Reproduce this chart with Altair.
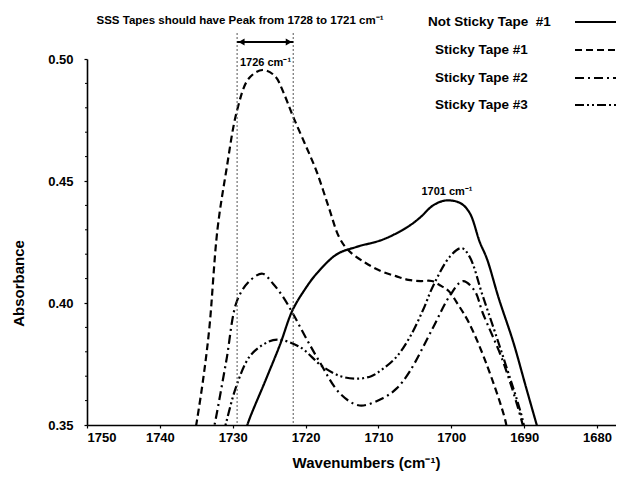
import altair as alt
import pandas as pd

FONT = "Liberation Sans"

series_names = ["Not Sticky Tape\u00a0\u00a0#1", "Sticky Tape #1", "Sticky Tape #2", "Sticky Tape #3"]

not_sticky_wn = [1728.4, 1728.0, 1725.4, 1723.5, 1721.8, 1720.0, 1718.5, 1715.7, 1713.0, 1709.4, 1706.1,
                 1704.3, 1702.5, 1700.8, 1698.8, 1697.5, 1696.1, 1695.1, 1693.5, 1691.5, 1689.8, 1687.8]
not_sticky_abs = [0.345, 0.350, 0.369, 0.383, 0.397, 0.406, 0.412, 0.420, 0.423, 0.426, 0.431,
                  0.435, 0.440, 0.442, 0.441, 0.437, 0.425, 0.418, 0.402, 0.384, 0.366, 0.345]

sticky1_wn = [1735.3, 1734.9, 1734.0, 1733.2, 1732.1, 1730.9, 1729.4, 1727.8, 1725.9, 1724.2, 1723.0,
              1721.8, 1720.2, 1718.5, 1716.8, 1715.4, 1714.1, 1711.8, 1709.6, 1707.6, 1705.9, 1704.2,
              1702.7, 1701.4, 1700.4, 1699.0, 1697.6, 1695.3, 1692.6, 1692.2]
sticky1_abs = [0.345, 0.352, 0.370, 0.390, 0.430, 0.454, 0.479, 0.492, 0.4955, 0.493, 0.486,
               0.477, 0.466, 0.454, 0.439, 0.427, 0.4215, 0.4165, 0.413, 0.411, 0.4095, 0.409,
               0.409, 0.407, 0.405, 0.399, 0.392, 0.376, 0.352, 0.345]

sticky2_wn = [1732.9, 1732.5, 1730.9, 1729.4, 1727.7, 1725.9, 1724.5, 1723.2, 1721.8, 1720.0, 1718.1,
              1715.3, 1712.6, 1709.4, 1707.5, 1705.7, 1702.5, 1700.2, 1698.4, 1696.8, 1695.7, 1692.9,
              1690.2, 1689.9]
sticky2_abs = [0.345, 0.350, 0.376, 0.401, 0.409, 0.412, 0.408, 0.403, 0.396, 0.386, 0.376,
               0.363, 0.358, 0.361, 0.365, 0.372, 0.390, 0.403, 0.409, 0.405, 0.396, 0.376,
               0.350, 0.345]

sticky3_wn = [1731.4, 1730.9, 1729.5, 1727.7, 1725.8, 1723.9, 1720.8, 1717.7, 1715.2, 1713.0, 1711.0,
              1709.4, 1707.5, 1705.7, 1703.9, 1702.5, 1700.2, 1698.6, 1697.5, 1695.7, 1692.9, 1690.2,
              1689.8]
sticky3_abs = [0.345, 0.351, 0.366, 0.378, 0.383, 0.385, 0.382, 0.374, 0.370, 0.369, 0.370,
               0.373, 0.378, 0.386, 0.397, 0.407, 0.419, 0.4225, 0.419, 0.403, 0.378, 0.352,
               0.345]

x_ticks = [1750, 1740, 1730, 1720, 1710, 1700, 1690, 1680]
y_ticks = [0.35, 0.40, 0.45, 0.50]
y_minor_ticks = [0.36, 0.37, 0.38, 0.39, 0.41, 0.42, 0.43, 0.44, 0.46, 0.47, 0.48, 0.49]
x_domain = [1677.4, 1750]
y_domain = [0.35, 0.50]

window_wn = [1729.4, 1721.7]
peak_labels = ["1726 cm\u207b\u00b9", "1701 cm\u207b\u00b9"]
peak_label_wn = [1725.5, 1700.6]
peak_label_abs = [0.4985, 0.4455]

title_text = "SSS Tapes should have Peak from 1728 to 1721 cm\u207b\u00b9"

dashes = [[1, 0], [7, 4], [9, 4, 2, 4], [9, 3, 2, 3, 2, 3]]

rows = []
for name, wns, vals in zip(series_names,
                           [not_sticky_wn, sticky1_wn, sticky2_wn, sticky3_wn],
                           [not_sticky_abs, sticky1_abs, sticky2_abs, sticky3_abs]):
    for w, v in zip(wns, vals):
        rows.append({"series": name, "wn": w, "abs": v})
df = pd.DataFrame(rows)

W, H = 529, 366

x_scale = alt.Scale(domain=x_domain, reverse=True, nice=False, zero=False)
y_scale = alt.Scale(domain=y_domain, nice=False, zero=False)

x_enc = alt.X("wn:Q", scale=x_scale,
              axis=alt.Axis(values=x_ticks, format="d", title="Wavenumbers (cm\u207b\u00b9)",
                            titleX=279, titleY=30, titleBaseline="top", titleFontSize=15,
                            labelPadding=3, tickSize=3))
y_enc = alt.Y("abs:Q", scale=y_scale,
              axis=alt.Axis(values=y_ticks, format=".2f", title="Absorbance",
                            titleX=-69, titleY=224, titleBaseline="middle", titleFontSize=15,
                            labelPadding=11, tickSize=3))

curves = alt.Chart(df).mark_line(clip=True, interpolate="catmull-rom", color="black",
                                 strokeWidth=2.2).encode(
    x=x_enc, y=y_enc,
    detail="series:N",
    strokeDash=alt.StrokeDash("series:N",
                              scale=alt.Scale(domain=series_names, range=dashes),
                              legend=None),
)

minor_df = pd.DataFrame({"abs": y_minor_ticks})
minor = alt.Chart(minor_df).mark_rule(color="black", strokeWidth=1).encode(
    y=alt.Y("abs:Q", scale=y_scale),
    x=alt.value(-2), x2=alt.value(1),
)

win_df = pd.DataFrame({"wn": window_wn})
window_lines = alt.Chart(win_df).mark_rule(color="#555555", strokeWidth=1,
                                           strokeDash=[2, 2]).encode(
    x=alt.X("wn:Q", scale=x_scale), y=alt.value(-26), y2=alt.value(H)
)

arrow_df = pd.DataFrame({"a": [window_wn[0]], "b": [window_wn[1]]})
arrow = alt.Chart(arrow_df).mark_rule(color="black", strokeWidth=1.8).encode(
    x=alt.X("a:Q", scale=x_scale), x2="b:Q", y=alt.value(-17)
)
head_l = alt.Chart(pd.DataFrame({"wn": [window_wn[0] - 0.6]})).mark_point(
    shape="triangle-left", filled=True, color="black", size=50, opacity=1).encode(
    x=alt.X("wn:Q", scale=x_scale), y=alt.value(-17))
head_r = alt.Chart(pd.DataFrame({"wn": [window_wn[1] + 0.6]})).mark_point(
    shape="triangle-right", filled=True, color="black", size=50, opacity=1).encode(
    x=alt.X("wn:Q", scale=x_scale), y=alt.value(-17))

lab_df = pd.DataFrame({"t": peak_labels, "wn": peak_label_wn, "abs": peak_label_abs})
peak_text = alt.Chart(lab_df).mark_text(font=FONT, fontWeight="bold", fontSize=11,
                                        color="black", clip=False).encode(
    x=alt.X("wn:Q", scale=x_scale), y=alt.Y("abs:Q", scale=y_scale), text="t:N")

title_layer = alt.Chart(pd.DataFrame({"t": [title_text]})).mark_text(
    font=FONT, fontWeight="bold", fontSize=11.5, color="black", align="center").encode(
    x=alt.value(153), y=alt.value(-38), text="t:N")

legend_layers = []
leg_text_x = [341, 348, 348, 348]
leg_y = [-37, -9, 19, 46]
for name, dash, tx, ty in zip(series_names, dashes, leg_text_x, leg_y):
    legend_layers.append(
        alt.Chart(pd.DataFrame({"t": [name]})).mark_text(
            font=FONT, fontWeight="bold", fontSize=13.5, color="black", align="left",
            baseline="middle").encode(x=alt.value(tx), y=alt.value(ty), text="t:N"))
    legend_layers.append(
        alt.Chart(pd.DataFrame({"t": [name]})).mark_rule(
            color="black", strokeWidth=1.8, strokeDash=dash).encode(
            x=alt.value(488), x2=alt.value(W), y=alt.value(ty)))

chart = alt.layer(curves, minor, window_lines, arrow, head_l, head_r, peak_text, title_layer,
                  *legend_layers).properties(
    width=W, height=H,
    padding={"left": 79, "top": 51, "right": 0, "bottom": 58},
    autosize=alt.AutoSizeParams(type="none"),
    background="white",
).configure_view(stroke=None).configure_axis(
    grid=False, domainColor="black", domainWidth=1.6, tickColor="black", tickWidth=1.2,
    labelFont=FONT, labelFontWeight="bold", labelFontSize=13, labelColor="black",
    titleFont=FONT, titleFontWeight="bold", titleColor="black",
)

chart.save("out.html", embed_options={"renderer": "svg", "actions": False})
